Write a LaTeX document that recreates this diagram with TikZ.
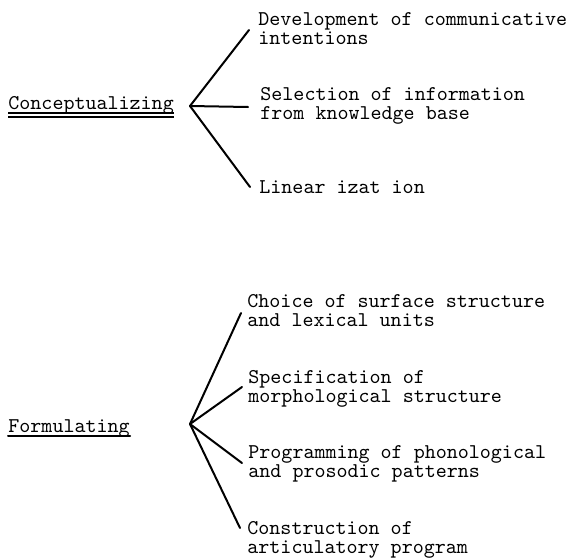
\documentclass[tikz,border=0pt]{standalone}
\tikzstyle{stage}=[anchor=base west, inner sep=0, font=\fontsize{10.5}{9.3}\selectfont\ttfamily]
\tikzstyle{process}=[anchor=base west, inner sep=0, align=left, font=\fontsize{10.5}{9.3}\selectfont\ttfamily]
\tikzstyle{branch}=[line width=1pt, line cap=round]
\tikzstyle{rule}=[line width=0.75pt]

\begin{document}
\begin{tikzpicture}[x=0.5pt, y=-0.5pt]
          \useasboundingbox (0,0) rectangle (571,557);

          % conceptualizing
          \node[stage] (concept) at (8,109) {Conceptualizing};
          \coordinate (concept_fork) at (190,106);
          \node[process] (concept_1) at (258,44) {Development of communicative\\intentions};
          \node[process] (concept_2) at (260,119.5) {Selection of information\\from knowledge base};
          \node[process] (concept_3) at (259,193) {Linear izat ion};
          \coordinate (concept_end_1) at (249,30);
          \coordinate (concept_end_2) at (248,107);
          \coordinate (concept_end_3) at (250,187);

          \draw[rule] ([yshift=-2pt]concept.base west) -- ([yshift=-2pt]concept.base east);
          \draw[rule] ([yshift=-4pt]concept.base west) -- ([yshift=-4pt]concept.base east);
          \draw[branch] (concept_fork) -- (concept_end_1);
          \draw[branch] (concept_fork) -- (concept_end_2);
          \draw[branch] (concept_fork) -- (concept_end_3);

          % formulating
          \node[stage] (formul) at (8,432) {Formulating};
          \coordinate (formul_fork) at (190,424);
          \node[process] (formul_1) at (247,326) {Choice of surface structure\\and lexical units};
          \node[process] (formul_2) at (248,402) {Specification of\\morphological structure};
          \node[process] (formul_3) at (248,477) {Programming of phonological\\and prosodic patterns};
          \node[process] (formul_4) at (247,553) {Construction of\\articulatory program};
          \coordinate (formul_end_1) at (241,313);
          \coordinate (formul_end_2) at (242,387);
          \coordinate (formul_end_3) at (242,463);
          \coordinate (formul_end_4) at (240,528);

          \draw[branch] ([yshift=-2pt]formul.base west) -- ([yshift=-2pt]formul.base east);
          \draw[branch] (formul_fork) -- (formul_end_1);
          \draw[branch] (formul_fork) -- (formul_end_2);
          \draw[branch] (formul_fork) -- (formul_end_3);
          \draw[branch] (formul_fork) -- (formul_end_4);
        \end{tikzpicture}
\end{document}
